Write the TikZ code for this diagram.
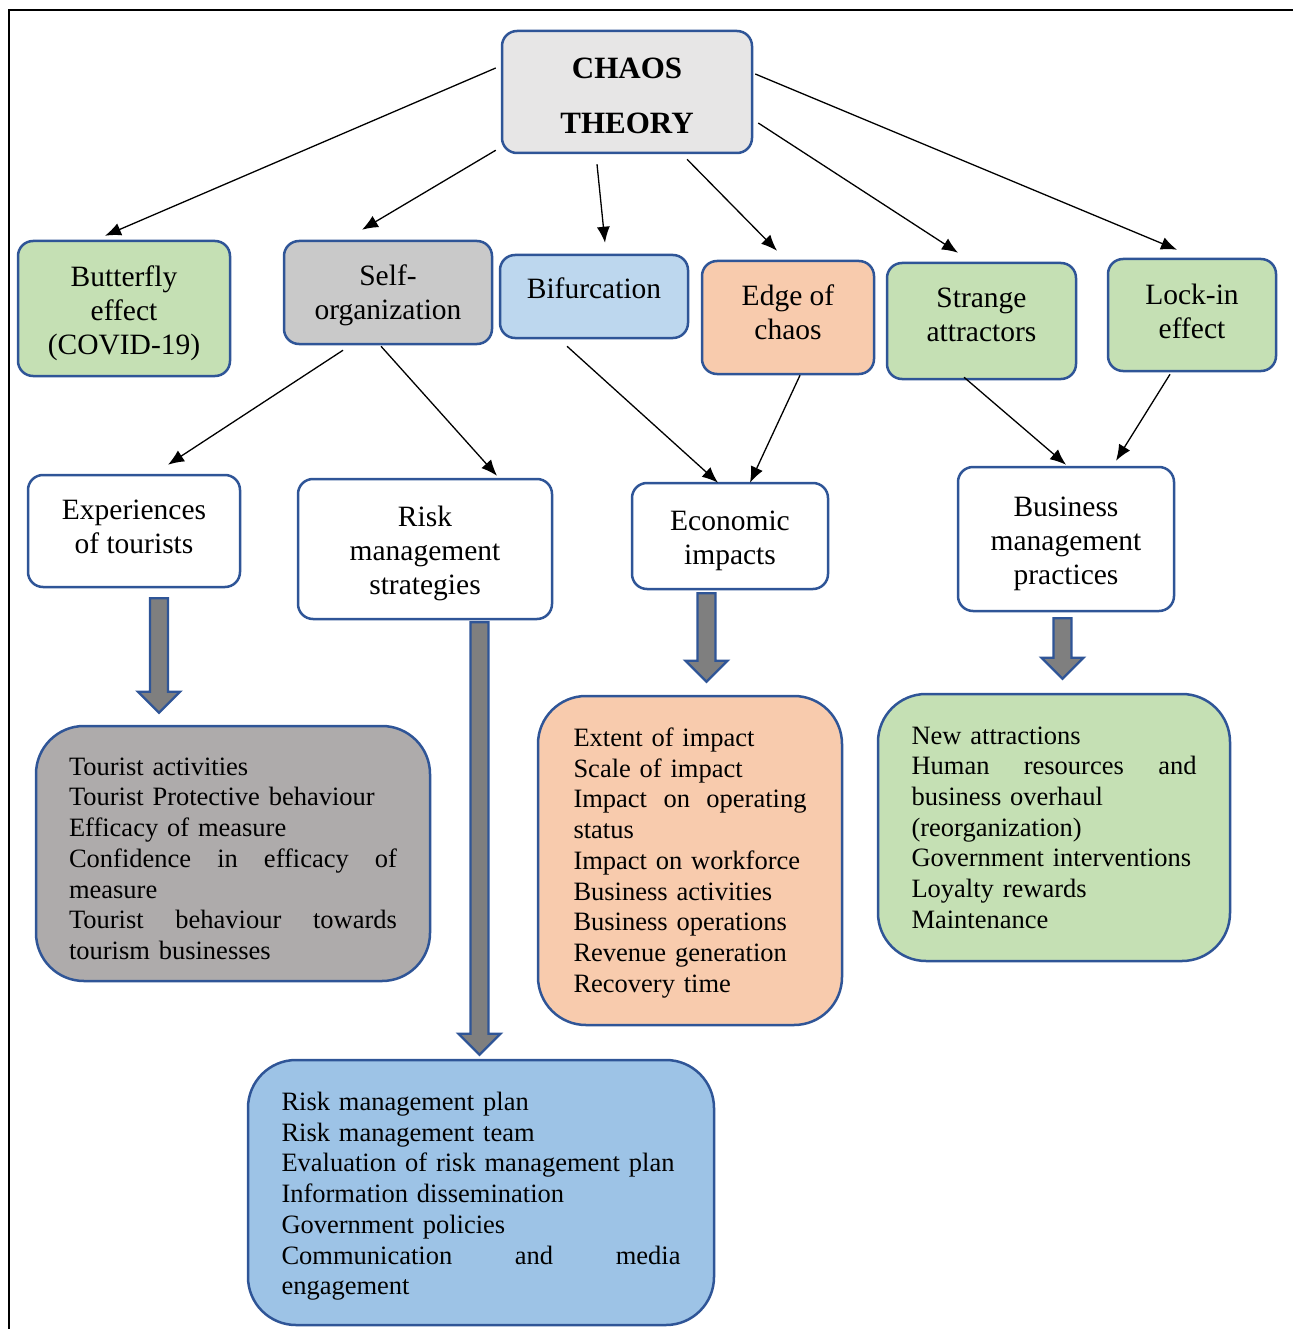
\documentclass[tikz,border=0pt]{standalone}
\usepackage{fontspec}
\setmainfont{Liberation Serif}
\usepackage{xcolor}
\definecolor{boxblue}{RGB}{47,85,151}
\definecolor{topgray}{RGB}{231,230,230}
\definecolor{midgray}{RGB}{201,201,201}
\definecolor{leafgreen}{RGB}{197,224,180}
\definecolor{paleblue}{RGB}{189,215,238}
\definecolor{peach}{RGB}{248,203,173}
\definecolor{stonegray}{RGB}{174,171,171}
\definecolor{skyblue}{RGB}{157,195,230}
\definecolor{arrowgray}{RGB}{127,127,127}
\usetikzlibrary{arrows.meta,positioning,calc}

\newcommand\labelfont{\fontsize{29.5}{34}\selectfont}
\newcommand\listfont{\fontsize{26.5}{30.7}\selectfont}
\newcommand\spread[1]{\makebox[\hsize][s]{\spaceskip=.25em plus 1fil\relax #1}}
\newcommand\sink[1]{\rule{0pt}{#1}}      % taller first line: text goes down
\newcommand\lift[1]{\rule[-#1]{0pt}{0pt}}% deeper last line: text goes up
% thick grey arrow pointing down, from #1 to the height of #2
\newcommand\fatdown[2]{%
  \draw[fatarrow] let \p1=#1, \p2=#2 in
    (\x1-9pt,\y1) -- (\x1+9pt,\y1) -- (\x1+9pt,\y2+21pt) -- (\x1+21pt,\y2+21pt)
    -- (\x1,\y2) -- (\x1-21pt,\y2+21pt) -- (\x1-9pt,\y2+21pt) -- cycle;}

\begin{document}
\begin{tikzpicture}[
    x=1pt, y=-1pt,
    font=\labelfont,
    box/.style={rectangle, rounded corners=15pt, align=center, draw=boxblue, line width=2.5pt, inner sep=0pt},
    listbox/.style={rectangle, rounded corners=48pt, align=left, draw=boxblue, line width=2.5pt, inner ysep=0pt, font=\listfont},
    arrow/.style={-{Latex[length=16pt,width=13pt]}, line width=1.3pt},
    fatarrow/.style={draw=boxblue, fill=arrowgray, line width=2.4pt, line join=miter},
]
\useasboundingbox (0,0) rectangle (1293,1329);

% frame
\draw[line width=2pt] (9,1329) -- (9,10) -- (1293,10);

% Root
\node[box, fill=topgray, minimum width=250pt, minimum height=122pt, font=\fontsize{31}{55}\selectfont\bfseries] (chaos) at (627,92) {\sink{29pt}CHAOS\\THEORY};

% Level 1 - concepts
\node[box, fill=leafgreen, minimum width=212pt, minimum height=135pt] (butterfly) at (124,308.5) {\sink{30pt}Butterfly\\effect\\(COVID-19)};
\node[box, fill=midgray, minimum width=208pt, minimum height=103pt] (selforg) at (388,292.5) {\sink{26pt}Self-\\organization};
\node[box, fill=paleblue, minimum width=188pt, minimum height=83pt] (bifurc) at (594,296.5) {Bifurcation\lift{16pt}};
\node[box, fill=peach, minimum width=172pt, minimum height=113pt] (edge) at (788,317.5) {Edge of\\chaos\lift{10pt}};
\node[box, fill=leafgreen, minimum width=189pt, minimum height=116pt] (strange) at (981.5,321) {Strange\\attractors\lift{12pt}};
\node[box, fill=leafgreen, minimum width=168pt, minimum height=112pt] (lockin) at (1192,315) {Lock-in\\effect\lift{8pt}};

% Level 2 - themes
\node[box, fill=white, minimum width=212pt, minimum height=112pt] (exper) at (134,531) {Experiences\\of tourists\lift{8pt}};
\node[box, fill=white, minimum width=254pt, minimum height=140pt] (risk) at (425,549) {\sink{30pt}Risk\\management\\strategies};
\node[box, fill=white, minimum width=196pt, minimum height=106pt] (econ) at (730,536) {\sink{29pt}Economic\\impacts};
\node[box, fill=white, minimum width=216pt, minimum height=144pt] (business) at (1066,539) {\sink{30pt}Business\\management\\practices};

% Level 3 - lists
\node[listbox, fill=stonegray, text width=328pt, inner xsep=33pt, minimum height=255pt] (tourlist) at (233,853.5) {%
  \sink{28pt}Tourist activities\\
  Tourist Protective behaviour\\
  Efficacy of measure\\
  \spread{Confidence in efficacy of}\\
  measure\\
  \spread{Tourist behaviour towards}\\
  tourism businesses};
\node[listbox, fill=peach, text width=233pt, inner xsep=35.5pt, minimum height=329pt] (econlist) at (690,860.5) {%
  \sink{23.5pt}Extent of impact\\
  Scale of impact\\
  \spread{Impact on operating}\\
  status\\
  Impact on workforce\\
  Business activities\\
  Business operations\\
  Revenue generation\\
  Recovery time};
\node[listbox, fill=leafgreen, text width=285pt, inner xsep=33.5pt, minimum height=267pt] (buslist) at (1054,827.5) {%
  New attractions\\
  \spread{Human resources and}\\
  business overhaul\\
  (reorganization)\\
  Government interventions\\
  Loyalty rewards\\
  Maintenance};
\node[listbox, fill=skyblue, text width=399pt, inner xsep=33.5pt, minimum height=265pt] (risklist) at (481,1192.5) {%
  \sink{26pt}Risk management plan\\
  Risk management team\\
  Evaluation of risk management plan\\
  Information dissemination\\
  Government policies\\
  \spread{Communication and media}\\
  engagement};

% Thin arrows
\draw[arrow] ([shift={(-5,-24)}]chaos.west) -- ([shift={(-19,-4)}]butterfly.north);
\draw[arrow] ([shift={(-5,-4)}]chaos.south west) -- ([shift={(-26,-10)}]selforg.north);
\draw[arrow] ([shift={(-30,10)}]chaos.south) -- ([shift={(11,-11)}]bifurc.north);
\draw[arrow] ([shift={(60,5)}]chaos.south) -- ([shift={(-11,-9)}]edge.north);
\draw[arrow] ([shift={(5,31)}]chaos.east) -- ([shift={(-23.5,-9)}]strange.north);
\draw[arrow] ([shift={(2,-18)}]chaos.east) -- ([shift={(-15,-8)}]lockin.north);
\draw[arrow] ([shift={(-45,5)}]selforg.south) -- ([shift={(34,-9)}]exper.north);
\draw[arrow] ([shift={(-7,1)}]selforg.south) -- ([shift={(72,-2)}]risk.north);
\draw[arrow] ([shift={(-27,7)}]bifurc.south) -- ([shift={(-12,1)}]econ.north);
\draw[arrow] ([shift={(12,0)}]edge.south) -- ([shift={(20,1)}]econ.north);
\draw[arrow] ([shift={(-17.5,-3)}]strange.south) -- ([shift={(0,-1)}]business.north);
\draw[arrow] ([shift={(-22,2)}]lockin.south) -- ([shift={(50,-5)}]business.north);

% Thick arrows
\fatdown{([shift={(25,10)}]exper.south)}{([shift={(0,-12)}]tourlist.north)}
\fatdown{([shift={(54.5,2)}]risk.south)}{([shift={(0,-4)}]risklist.north)}
\fatdown{([shift={(-23.5,3)}]econ.south)}{([shift={(0,-13)}]econlist.north)}
\fatdown{([shift={(-3.5,6)}]business.south)}{([shift={(0,-14)}]buslist.north)}

\end{tikzpicture}
\end{document}
